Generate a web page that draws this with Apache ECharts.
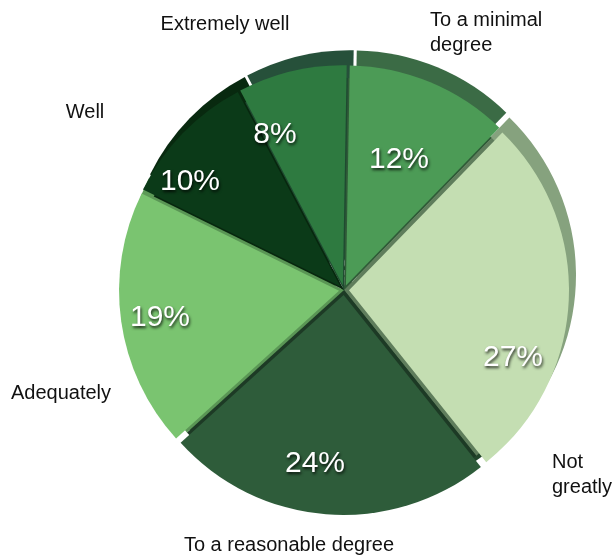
<!DOCTYPE html>
<html>
<head>
<meta charset="utf-8">
<script src="https://cdn.jsdelivr.net/npm/echarts@6/dist/echarts.min.js"></script>
<style>
  html, body { margin: 0; padding: 0; background: #ffffff; }
  #chart { width: 615px; height: 558px; }
</style>
</head>
<body>
<div id="chart"></div>
<script>
// Survey answers, clockwise from the top
const categories = ['To a minimal degree', 'Not greatly', 'To a reasonable degree', 'Adequately', 'Well', 'Extremely well'];
const categoryLabels = ['To a minimal\ndegree', 'Not\ngreatly', 'To a reasonable degree', 'Adequately', 'Well', 'Extremely well'];
const shares = [12, 27, 24, 19, 10, 8];

// Slice top faces and the darker side walls behind them
const faceColors = ['#4c9b56', '#c4deb2', '#2e5c3a', '#7ac470', '#0b3a18', '#2e7a40'];
const rimColors = ['#3b6b45', '#86a27e', '#22452b', '#5d9a57', '#08290f', '#26503a'];
const wallColors = ['#2f5a37', '#5f7d5c', '#1d3a25', '#5a9655', '#07260e', '#1f4a30'];

// Pie geometry
const CX = 344, CY = 290, R = 220;
const RIM_DX = 7, RIM_DY = -15;
const EXPLODE = 5;
const START = 89;

// Where the percentage and the category texts sit
const pctSpots = [[399, 160], [513, 358], [315, 464], [160, 318], [190, 182], [275, 135]];
const nameSpots = [[430, 33, 'left'], [552, 475, 'left'], [289, 545, 'center'], [61, 393, 'center'], [85, 112, 'center'], [225, 24, 'center']];

function sliceData(colors, exploded) {
  return categories.map((name, i) => ({
    name: name,
    value: shares[i],
    selected: exploded,
    itemStyle: { color: colors ? colors[i] : 'rgba(0,0,0,0)' }
  }));
}

const common = {
  type: 'pie',
  radius: [0, R],
  startAngle: START,
  clockwise: true,
  avoidLabelOverlap: false,
  silent: true,
  animation: false,
  emphasis: { disabled: true },
  labelLine: { show: false }
};

const pieces = Object.assign({}, common, {
  selectedMode: 'multiple',
  selectedOffset: EXPLODE,
  label: { show: false }
});

// transparent copy of the pie that only carries text
function textLayer(name, z, label, spots) {
  return Object.assign({}, common, {
    name: name,
    z: z,
    center: [CX, CY],
    data: sliceData(null, false),
    label: Object.assign({ show: true, position: 'inside' }, label),
    labelLayout: (p) => ({
      x: spots[p.dataIndex][0],
      y: spots[p.dataIndex][1],
      align: spots[p.dataIndex][2] || 'center',
      verticalAlign: 'middle'
    })
  });
}

const chart = echarts.init(document.getElementById('chart'), null, { renderer: 'canvas' });
chart.setOption({
  backgroundColor: '#ffffff',
  series: [
    // side walls: a darker copy pushed up and to the right
    Object.assign({}, pieces, {
      name: 'rim',
      z: 1,
      center: [CX + RIM_DX, CY + RIM_DY],
      data: sliceData(rimColors, true)
    }),
    // inner walls seen through the gaps between the pulled-out slices
    Object.assign({}, common, {
      name: 'walls',
      z: 1,
      radius: [0, R - 8],
      center: [CX, CY],
      data: sliceData(wallColors, false),
      label: { show: false }
    }),
    // top faces
    Object.assign({}, pieces, {
      name: 'face',
      z: 2,
      center: [CX, CY],
      data: sliceData(faceColors, true)
    }),
    textLayer('shares', 3, {
      formatter: (p) => p.value + '%',
      color: '#ffffff',
      fontFamily: 'Liberation Sans, Arial, sans-serif',
      fontSize: 30,
      textShadowColor: 'rgba(0,0,0,0.8)',
      textShadowBlur: 3,
      textShadowOffsetX: 1,
      textShadowOffsetY: 2
    }, pctSpots),
    textLayer('names', 4, {
      formatter: (p) => categoryLabels[p.dataIndex],
      color: '#111111',
      fontFamily: 'Liberation Sans, Arial, sans-serif',
      fontSize: 20,
      lineHeight: 25
    }, nameSpots)
  ]
});
</script>
</body>
</html>
